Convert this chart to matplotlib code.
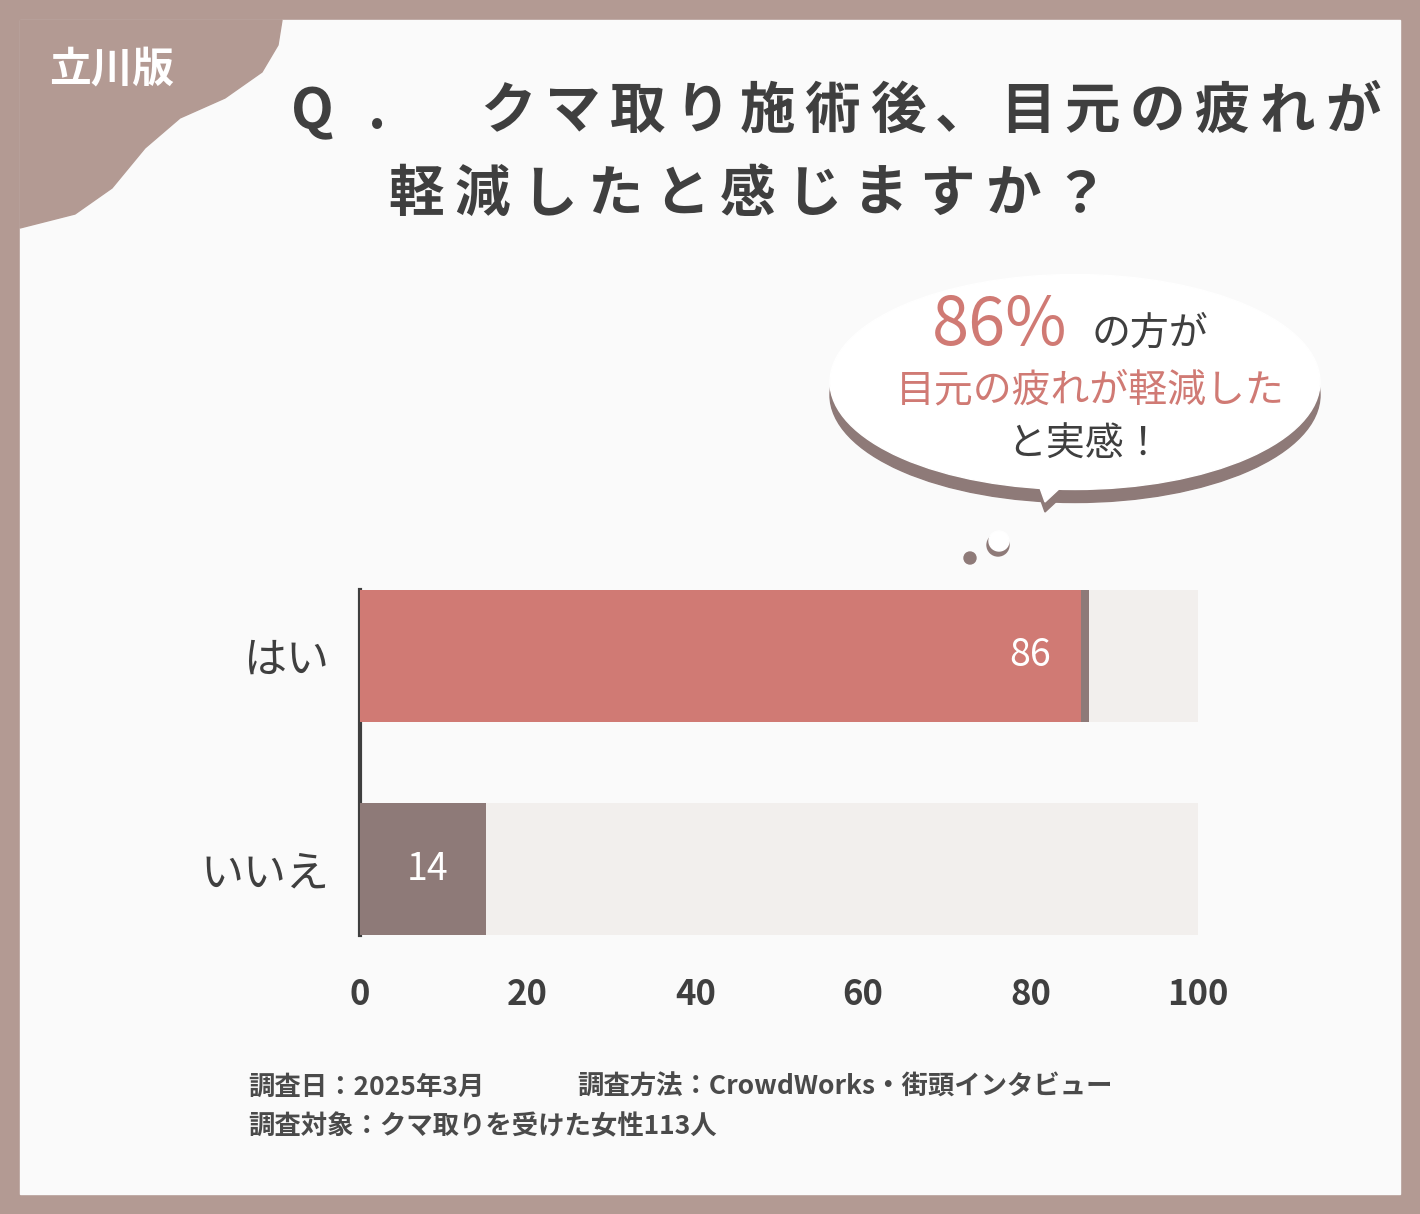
import matplotlib
matplotlib.use("Agg")
import matplotlib.pyplot as plt
from matplotlib.patches import Ellipse, Rectangle, Polygon, Circle

categories = ["はい", "いいえ"]
values = [86, 14]
xticks = [0, 20, 40, 60, 80, 100]
bar_colors = ["#d07a74", "#8e7a78"]

FONT = "Noto Sans CJK JP"
W, H = 1420, 1214
fig = plt.figure(figsize=(W/100, H/100), dpi=100)
fig.patch.set_facecolor("#b39a93")

bg = fig.add_axes([0, 0, 1, 1]); bg.set_xlim(0, W); bg.set_ylim(H, 0); bg.axis("off")
bg.add_patch(Rectangle((20, 20), 1380, 1174, color="#fafafa", zorder=0))
blob = Polygon([(20, 20), (282, 20), (278, 45), (262, 72), (225, 98), (180, 118), (145, 148),
                (112, 188), (75, 214), (20, 228)], closed=True, color="#b39a93", zorder=1)
bg.add_patch(blob)
bg.text(112, 70, "立川版", fontfamily=FONT, fontweight="bold", fontsize=30, color="white", ha="center", va="center")

def spaced(text, x0, pitch, y):
    for i, ch in enumerate(text):
        bg.text(x0 + i*pitch + pitch/2, y, ch, fontfamily=FONT, fontweight="bold", fontsize=40,
                color="#3f3f3f", ha="center", va="center")
spaced("Q. クマ取り施術後、目元の疲れが", 280, 1040/16, 112)
spaced("軽減したと感じますか？", 383, 730/11, 195)

# speech bubble
bg.add_patch(Ellipse((1075, 395), 490, 215, color="#8e7a78", zorder=2))
bg.add_patch(Ellipse((1075, 382), 490, 215, color="white", zorder=3))
bg.add_patch(Polygon([(1030, 470), (1090, 470), (1045, 512)], color="#8e7a78", zorder=2))
bg.add_patch(Polygon([(1030, 460), (1090, 460), (1045, 502)], color="white", zorder=3))
bg.add_patch(Circle((998, 545), 11, color="#8e7a78", zorder=2))
bg.add_patch(Circle((999, 541), 10, color="white", zorder=3))
bg.add_patch(Circle((970, 558), 6, color="#8e7a78", zorder=2))
bg.text(1000, 326, "86%", fontfamily=FONT, fontsize=48, color="#d07a74", ha="center", va="center", zorder=4)
bg.text(1150, 334, "の方が", fontfamily=FONT, fontsize=28, color="#3f3f3f", ha="center", va="center", zorder=4)
bg.text(1090, 390, "目元の疲れが軽減した", fontfamily=FONT, fontsize=28, color="#d07a74", ha="center", va="center", zorder=4)
bg.text(1085, 445, "と実感！", fontfamily=FONT, fontsize=28, color="#3f3f3f", ha="center", va="center", zorder=4)

bg.text(248, 1087, "調査日：2025年3月", fontfamily=FONT, fontweight="bold", fontsize=19, color="#4a4a4a", va="center")
bg.text(577, 1087, "調査方法：CrowdWorks・街頭インタビュー", fontfamily=FONT, fontweight="bold", fontsize=19, color="#4a4a4a", va="center")
bg.text(248, 1127, "調査対象：クマ取りを受けた女性113人", fontfamily=FONT, fontweight="bold", fontsize=19, color="#4a4a4a", va="center")

# bar chart axes: x 360..1198, y 570..955 px
ax = fig.add_axes([360/W, 1-955/H, (1198-360)/W, (955-570)/H])
ax.set_facecolor("none")
ax.set_xlim(0, 100); ax.set_ylim(-86/213, 1 + 86/213)
ypos = [1.0, 0.0]
bh = 132/213
for y, v, c in zip(ypos, values, bar_colors):
    ax.barh(y, 101.5, height=bh, color="#f2efed", zorder=1)
    ax.barh(y, v + 1.0, height=bh, color="#8e7a78", zorder=2)
    ax.barh(y, v, height=bh, color=c, zorder=3)
    ax.text(v - 3.5, y, str(v), fontfamily=FONT, fontsize=27, color="white", ha="right", va="center", zorder=4)
ax.set_yticks(ypos)
ax.set_yticklabels(categories, fontfamily=FONT, fontsize=31, color="#3f3f3f")
ax.set_xticks(xticks)
ax.set_xticklabels([str(t) for t in xticks], fontfamily=FONT, fontweight="bold", fontsize=25, color="#3f3f3f")
ax.tick_params(length=0, pad=22)
ax.tick_params(axis="x", pad=16)
for s in ["top", "right", "bottom"]:
    ax.spines[s].set_visible(False)
ax.spines["left"].set_linewidth(3); ax.spines["left"].set_color("#3f3f3f")
ax.spines["left"].set_bounds(-0.31, 1.31)

fig.savefig("out.png", dpi=100)
